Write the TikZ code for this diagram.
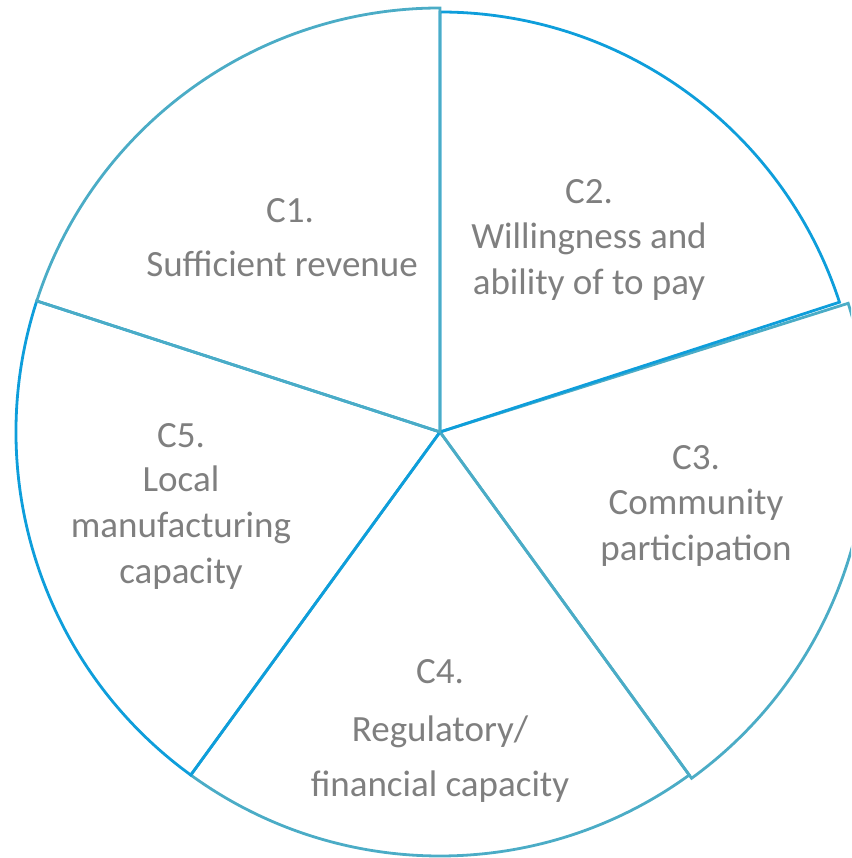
\documentclass[tikz,border=0pt]{standalone}
\usepackage{fontspec}
\setmainfont{Carlito}
\definecolor{pieteal}{HTML}{4BACC6}
\definecolor{pieblue}{HTML}{0E9EDB}
\definecolor{labelgray}{HTML}{7F7F7F}
\begin{document}
\begin{tikzpicture}[x=1pt,y=1pt,
  sector/.style={line width=2.8pt, line join=miter},
  lbl/.style={anchor=base, inner sep=0pt, text=labelgray, font=\fontsize{37}{45}\selectfont}]
\useasboundingbox (0,0) rectangle (851,858);
\clip (0,0) rectangle (851,858);
\coordinate (c) at (440,426);
% pie sectors, 72 degrees each
\draw[sector, pieteal] (c) -- ++(17.5:428) arc[start angle=17.5, end angle=-54, radius=428] -- cycle;
\draw[sector, pieteal] (c) -- ++(-54:424) arc[start angle=-54, end angle=-126, radius=424] -- cycle;
\draw[sector, pieblue] (c) -- ++(-126:424) arc[start angle=-126, end angle=-198, radius=424] -- cycle;
\draw[sector, pieblue] (c) -- ++(18:420) arc[start angle=18, end angle=90, radius=420] -- cycle;
\draw[sector, pieteal] (c) -- ++(90:424) arc[start angle=90, end angle=162, radius=424] -- cycle;
% labels
\node[lbl] (c1a) at (290,635) {C1.};
\node[lbl] (c1b) at (282,581) {Sufficient revenue};
\node[lbl] (c2a) at (589,654) {C2.};
\node[lbl] (c2b) at (589,609) {Willingness and};
\node[lbl] (c2c) at (589,563) {ability of to pay};
\node[lbl] (c3a) at (696,388) {C3.};
\node[lbl] (c3b) at (696,343) {Community};
\node[lbl] (c3c) at (696,297) {participation};
\node[lbl] (c4a) at (440,174) {C4.};
\node[lbl] (c4b) at (440,116) {Regulatory/};
\node[lbl] (c4c) at (440,61) {financial capacity};
\node[lbl] (c5a) at (181,410) {C5.};
\node[lbl] (c5b) at (181,366) {Local};
\node[lbl] (c5c) at (181,320) {manufacturing};
\node[lbl] (c5d) at (181,274) {capacity};
\end{tikzpicture}
\end{document}
